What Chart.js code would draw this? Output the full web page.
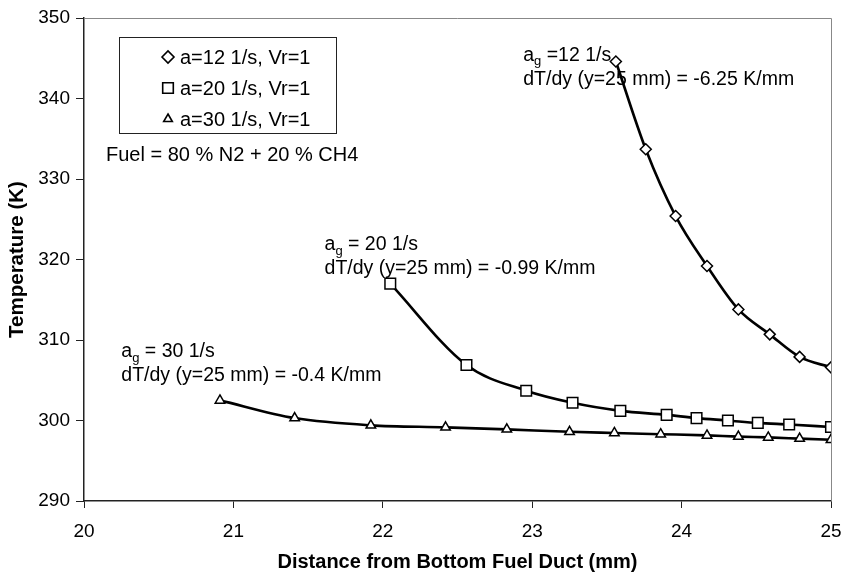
<!DOCTYPE html>
<html>
<head>
<meta charset="utf-8">
<script src="https://cdn.jsdelivr.net/npm/chart.js@4/dist/chart.umd.min.js"></script>
<style>
  html, body { margin: 0; padding: 0; background: #fff; }
  #wrap { width: 843px; height: 574px; }
</style>
</head>
<body>
<div id="wrap"><canvas id="tempChart" width="843" height="574"></canvas></div>
<script>
// distance from bottom fuel duct (mm) and temperature (K) per strain rate
const xA12 = [23.56, 23.76, 23.96, 24.17, 24.38, 24.59, 24.79, 25.0];
const tA12 = [344.6, 333.7, 325.4, 319.2, 313.8, 310.7, 307.9, 306.6];

const xA20 = [22.05, 22.56, 22.96, 23.27, 23.59, 23.90, 24.10, 24.31, 24.51, 24.72, 25.0];
const tA20 = [317.0, 306.9, 303.7, 302.2, 301.2, 300.7, 300.3, 300.0, 299.7, 299.5, 299.2];

const xA30 = [20.91, 21.41, 21.92, 22.42, 22.83, 23.25, 23.55, 23.86, 24.17, 24.38, 24.58, 24.79, 25.0];
const tA30 = [302.5, 300.3, 299.4, 299.15, 298.9, 298.6, 298.45, 298.3, 298.15, 298.0, 297.9, 297.75, 297.6];

const seriesLabels = ["a=12 1/s, Vr=1", "a=20 1/s, Vr=1", "a=30 1/s, Vr=1"];
const fuelNote = "Fuel = 80 % N2 + 20 % CH4";
const gradNotes = [
  { rate: "12 1/s", sep: " =", grad: "dT/dy (y=25 mm) = -6.25 K/mm" },
  { rate: "20 1/s", sep: " = ", grad: "dT/dy (y=25 mm) = -0.99 K/mm" },
  { rate: "30 1/s", sep: " = ", grad: "dT/dy (y=25 mm) = -0.4 K/mm" }
];

const FONT = "'Liberation Sans', Arial, Helvetica, sans-serif";

function toPoints(xs, ys) {
  return xs.map((x, i) => ({ x: x, y: ys[i] }));
}

function makeSet(label, xs, ys, style, radius) {
  return {
    label: label,
    data: toPoints(xs, ys),
    showLine: true,
    cubicInterpolationMode: "monotone",
    borderColor: "#000",
    borderWidth: 2.6,
    pointStyle: style,
    pointRadius: radius,
    pointBorderWidth: 1.5,
    pointBorderColor: "#000",
    pointBackgroundColor: "#fff"
  };
}

const extras = {
  id: "extras",
  afterDatasetsDraw(chart) {
    const ctx = chart.ctx;
    const area = chart.chartArea;
    const xs = chart.scales.x;
    const ys = chart.scales.y;
    ctx.save();

    // plot frame, top and right
    ctx.strokeStyle = "#888";
    ctx.lineWidth = 1;
    ctx.beginPath();
    ctx.moveTo(area.left, area.top + 0.5);
    ctx.lineTo(area.right + 0.5, area.top + 0.5);
    ctx.lineTo(area.right + 0.5, area.bottom);
    ctx.stroke();

    // legend box
    ctx.strokeStyle = "#222";
    ctx.lineWidth = 1;
    ctx.strokeRect(119.5, 37.5, 217, 96);
    ctx.font = "20px " + FONT;
    ctx.fillStyle = "#000";
    ctx.textBaseline = "middle";
    ctx.textAlign = "left";
    const rowY = [57, 88, 119];
    const legendMarks = [["rectRot", 6], ["rect", 7.5], ["triangle", 5]];
    chart.data.datasets.forEach((ds, i) => {
      ctx.lineWidth = 1.6;
      ctx.strokeStyle = "#000";
      ctx.fillStyle = "#fff";
      Chart.helpers.drawPoint(ctx, { pointStyle: legendMarks[i][0], radius: legendMarks[i][1], borderWidth: 1.6 }, 168, rowY[i]);
      ctx.fillStyle = "#000";
      ctx.fillText(ds.label, 180, rowY[i] + 1);
    });
    ctx.fillText(fuelNote, 106, 155);

    // gradient notes beside each curve
    const anchors = [[22.94, 345.3], [21.61, 321.8], [20.25, 308.5]];
    gradNotes.forEach((n, i) => {
      const px = xs.getPixelForValue(anchors[i][0]);
      const py = ys.getPixelForValue(anchors[i][1]);
      ctx.font = "19.5px " + FONT;
      ctx.fillText("a", px, py);
      let w = ctx.measureText("a").width;
      ctx.font = "13px " + FONT;
      ctx.fillText("g", px + w, py + 6);
      w += ctx.measureText("g").width;
      ctx.font = "19.5px " + FONT;
      ctx.fillText(n.sep + n.rate, px + w, py);
      ctx.fillText(n.grad, px, py + 24);
    });
    ctx.restore();
  }
};

new Chart(document.getElementById("tempChart").getContext("2d"), {
  type: "scatter",
  data: {
    datasets: [
      makeSet(seriesLabels[0], xA12, tA12, "rectRot", 5.5),
      makeSet(seriesLabels[1], xA20, tA20, "rect", 7.5),
      makeSet(seriesLabels[2], xA30, tA30, "triangle", 5.5)
    ]
  },
  options: {
    responsive: false,
    animation: false,
    layout: { padding: { top: 18, right: 12, left: 0, bottom: 0 } },
    plugins: {
      legend: { display: false },
      tooltip: { enabled: false }
    },
    scales: {
      x: {
        type: "linear",
        min: 20,
        max: 25,
        afterFit(s) {
          s.height = 73;
          s.paddingLeft = 0;
          s.paddingRight = 0;
        },
        ticks: { stepSize: 1, padding: 12, color: "#000", font: { family: FONT, size: 19 } },
        grid: { drawOnChartArea: false, drawTicks: true, tickLength: 7, color: "#222" },
        border: { color: "#222", width: 1.5 },
        title: {
          display: true,
          text: "Distance from Bottom Fuel Duct (mm)",
          color: "#000",
          font: { family: FONT, size: 20, weight: "bold" },
          padding: { top: 0, bottom: 0 }
        }
      },
      y: {
        type: "linear",
        min: 290,
        max: 350,
        afterFit(s) { s.width = 84; },
        ticks: { stepSize: 10, padding: 6, color: "#000", font: { family: FONT, size: 19 } },
        grid: { drawOnChartArea: false, drawTicks: true, tickLength: 8, color: "#222" },
        border: { color: "#222", width: 1.5 },
        title: {
          display: true,
          text: "Temperature (K)",
          color: "#000",
          font: { family: FONT, size: 20.5, weight: "bold" },
          padding: { top: 5, bottom: 0 }
        }
      }
    }
  },
  plugins: [extras]
});
</script>
</body>
</html>
